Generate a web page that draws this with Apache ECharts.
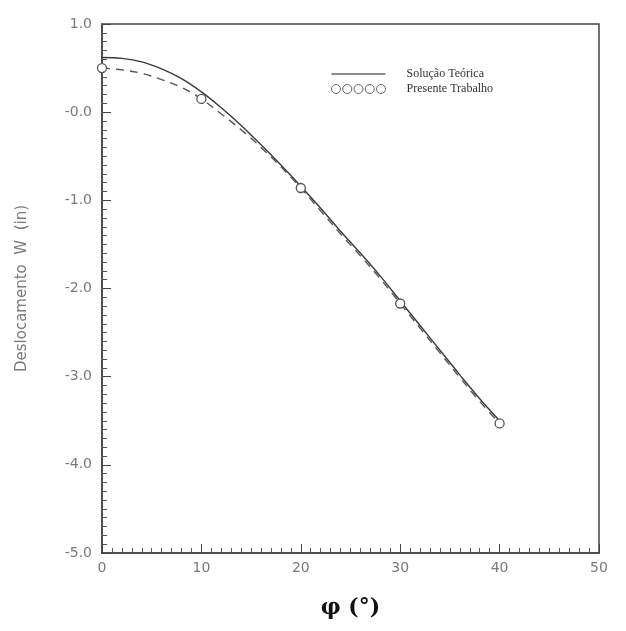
<!DOCTYPE html>
<html>
<head>
<meta charset="utf-8">
<script src="https://cdn.jsdelivr.net/npm/echarts@6/dist/echarts.min.js"></script>
<style>html,body{margin:0;padding:0;background:#fff}#c{width:626px;height:631px}</style>
</head>
<body>
<div id="c"></div>
<script>
var phi = [0, 2, 4, 6, 8, 10, 12, 14, 16, 18, 20, 22, 24, 26, 28, 30, 32, 34, 36, 38, 40];
var teorica = [0.62, 0.61, 0.57, 0.49, 0.38, 0.23, 0.05, -0.15, -0.37, -0.60, -0.84, -1.09, -1.35, -1.60, -1.86, -2.14, -2.42, -2.70, -2.98, -3.25, -3.50];
var presente = [0.50, 0.48, 0.44, 0.37, 0.28, 0.15, -0.02, -0.20, -0.40, -0.62, -0.86, -1.12, -1.38, -1.63, -1.89, -2.17, -2.45, -2.73, -3.01, -3.28, -3.53];
var markedPhi = [0, 10, 20, 30, 40];
var seriesNames = ['Solução Teórica', 'Presente Trabalho'];
var xTicks = [0, 10, 20, 30, 40, 50];
var yTicks = [1.0, 0.0, -1.0, -2.0, -3.0, -4.0, -5.0];

var chart = echarts.init(document.getElementById('c'));
var dTeo = phi.map(function (x, i) { return [x, teorica[i]]; });
var dPre = phi.map(function (x, i) {
  var item = { value: [x, presente[i]] };
  if (markedPhi.indexOf(x) < 0) item.symbol = 'none';
  return item;
});
var circlesIcon = 'path://M0,4a4,4 0 1,0 8,0a4,4 0 1,0 -8,0z M10,4a4,4 0 1,0 8,0a4,4 0 1,0 -8,0z M20,4a4,4 0 1,0 8,0a4,4 0 1,0 -8,0z M30,4a4,4 0 1,0 8,0a4,4 0 1,0 -8,0z M40,4a4,4 0 1,0 8,0a4,4 0 1,0 -8,0z';
var lineIcon = 'path://M0,0L48,0L48,1.2L0,1.2z';
var gray = '#7a7a7a';
chart.setOption({
  animation: false,
  backgroundColor: '#fff',
  grid: { left: 102, top: 24, right: 27, bottom: 78, show: true, borderColor: '#444', borderWidth: 1.5 },
  legend: {
    orient: 'vertical', left: 326, top: 63, itemGap: 3, itemWidth: 54, itemHeight: 9,
    textStyle: { fontFamily: 'Liberation Serif', fontSize: 12, color: '#333', padding: [0, 0, 0, 16] },
    data: [
      { name: seriesNames[0], icon: lineIcon, itemStyle: { color: '#666' } },
      { name: seriesNames[1], icon: circlesIcon, itemStyle: { color: 'transparent', borderColor: '#666', borderWidth: 1 } }
    ]
  },
  xAxis: {
    type: 'value', min: xTicks[0], max: xTicks[xTicks.length - 1], interval: 10,
    name: 'φ (°)', nameLocation: 'middle', nameGap: 44,
    nameTextStyle: { fontSize: 22, fontWeight: 'bold', color: '#111', fontFamily: 'DejaVu Serif' },
    axisLine: { show: true, onZero: false, lineStyle: { color: '#444', width: 1.5 } },
    axisTick: { show: true, inside: true, length: 9, lineStyle: { color: '#444' } },
    minorTick: { show: true, splitNumber: 10, length: 5, lineStyle: { color: '#555' } },
    axisLabel: { color: gray, fontSize: 14, margin: 8, fontFamily: 'DejaVu Sans' },
    splitLine: { show: false }
  },
  yAxis: {
    type: 'value', min: yTicks[yTicks.length - 1], max: yTicks[0], interval: 1,
    name: 'Deslocamento  W  (in)', nameLocation: 'middle', nameGap: 72, nameRotate: 90,
    nameTextStyle: { fontSize: 15, color: gray, fontFamily: 'DejaVu Sans' },
    axisLine: { show: true, onZero: false, lineStyle: { color: '#444', width: 1.5 } },
    axisTick: { show: true, inside: true, length: 9, lineStyle: { color: '#444' } },
    minorTick: { show: true, splitNumber: 10, length: 5, lineStyle: { color: '#555' } },
    axisLabel: { color: gray, fontSize: 14, margin: 10, fontFamily: 'DejaVu Sans',
      formatter: function (v) { return v === 0 ? '-0.0' : v.toFixed(1); } },
    splitLine: { show: false }
  },
  series: [
    { name: seriesNames[0], type: 'line', data: dTeo, smooth: 0.4, showSymbol: false, symbol: 'none',
      lineStyle: { color: '#3a3a3a', width: 1.4 }, itemStyle: { color: '#3a3a3a' } },
    { name: seriesNames[1], type: 'line', data: dPre, smooth: 0.4, symbol: 'circle', symbolSize: 9, showSymbol: true,
      lineStyle: { color: '#555', width: 1.4, type: [8, 6] },
      itemStyle: { color: '#fff', borderColor: '#555', borderWidth: 1.3 } }
  ]
});
</script>
</body>
</html>
